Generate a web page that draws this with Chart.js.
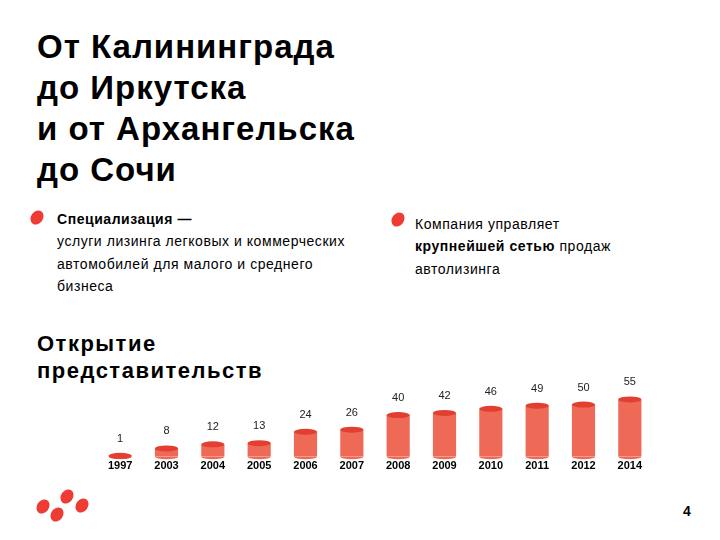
<!DOCTYPE html>
<html>
<head>
<meta charset="utf-8">
<script src="https://cdn.jsdelivr.net/npm/chart.js@4.4.1/dist/chart.umd.min.js"></script>
<style>
    body { margin: 0; background: #fff; font-family: "Liberation Sans", Arial, sans-serif; color: #000; }
    #page { position: relative; width: 720px; height: 540px; overflow: hidden; }
    .title { position: absolute; left: 37px; top: 26px; font-size: 33px; font-weight: bold; line-height: 41px; letter-spacing: 1px; }
    .sub { position: absolute; left: 37px; top: 330px; font-size: 22px; font-weight: bold; line-height: 27px; letter-spacing: 1.5px; }
    .txt { position: absolute; font-size: 14px; line-height: 22.3px; letter-spacing: 0.55px; }
    .dot { position: absolute; width: 12px; height: 15px; border-radius: 50%; background: #EE3B33; transform: rotate(35deg); }
    .pnum { position: absolute; left: 683px; top: 503px; font-size: 14px; font-weight: bold; }
    #wrap { position: absolute; left: 97px; top: 366px; width: 556px; height: 110px; }
</style>
</head>
<body>
<div id="page">
    <div class="title">От Калининграда<br>до Иркутска<br>и от Архангельска<br>до Сочи</div>

    <div class="dot" style="left:31px; top:210px;"></div>
    <div class="txt" style="left:57px; top:208px;"><b>Специализация —</b><br>услуги лизинга легковых и коммерческих<br>автомобилей для малого и среднего<br>бизнеса</div>

    <div class="dot" style="left:392px; top:212px;"></div>
    <div class="txt" style="left:415px; top:213px;">Компания управляет<br><b>крупнейшей сетью</b> продаж<br>автолизинга</div>

    <div class="sub">Открытие<br>представительств</div>

    <div id="wrap"><canvas id="officesChart"></canvas></div>

    <div class="dot" style="left:37px; top:499px;"></div>
    <div class="dot" style="left:61px; top:489px;"></div>
    <div class="dot" style="left:51px; top:507px;"></div>
    <div class="dot" style="left:76px; top:498px;"></div>

    <div class="pnum">4</div>
</div>

<script>
const years = ['1997', '2003', '2004', '2005', '2006', '2007', '2008', '2009', '2010', '2011', '2012', '2014'];
const offices = [1, 8, 12, 13, 24, 26, 40, 42, 46, 49, 50, 55];

// cylinder tops + value labels
const cylinderPlugin = {
    id: 'cylinder',
    afterDatasetsDraw(chart) {
        const ctx = chart.ctx;
        const meta = chart.getDatasetMeta(0);
        meta.data.forEach((bar, i) => {
            const w = bar.width;
            ctx.save();
            ctx.fillStyle = '#EE6A56';
            ctx.beginPath();
            ctx.ellipse(bar.x, bar.base, w / 2, 2.5, 0, 0, Math.PI);
            ctx.fill();
            ctx.fillStyle = '#E23F30';
            ctx.beginPath();
            ctx.ellipse(bar.x, bar.y, w / 2, 3, 0, 0, Math.PI * 2);
            ctx.fill();
            ctx.fillStyle = '#222';
            ctx.font = '11px "Liberation Sans", Arial';
            ctx.textAlign = 'center';
            ctx.textBaseline = 'middle';
            ctx.fillText(offices[i], bar.x, bar.y - 17);
            ctx.restore();
        });
    }
};

document.addEventListener("DOMContentLoaded", () => {
    const ctx = document.getElementById('officesChart');

    const data = {
        labels: years,
        datasets: [{
            label: 'Представительства',
            data: offices,
            backgroundColor: '#EE6A56',
            borderWidth: 0,
            barPercentage: 0.5,
            categoryPercentage: 1
        }]
    };

    const config = {
        type: 'bar',
        data: data,
        options: {
            responsive: true,
            maintainAspectRatio: false,
            animation: false,
            layout: { padding: 0 },
            plugins: {
                legend: { display: false },
                tooltip: { enabled: false }
            },
            scales: {
                x: {
                    grid: { display: false, drawTicks: false },
                    border: { display: false },
                    ticks: {
                        color: '#000',
                        padding: 3,
                        font: { family: '"Liberation Sans", Arial', size: 11, weight: 'bold' }
                    }
                },
                y: {
                    display: false,
                    min: 0,
                    max: 87
                }
            }
        },
        plugins: [cylinderPlugin]
    };

    new Chart(ctx, config);
});
</script>
</body>
</html>
